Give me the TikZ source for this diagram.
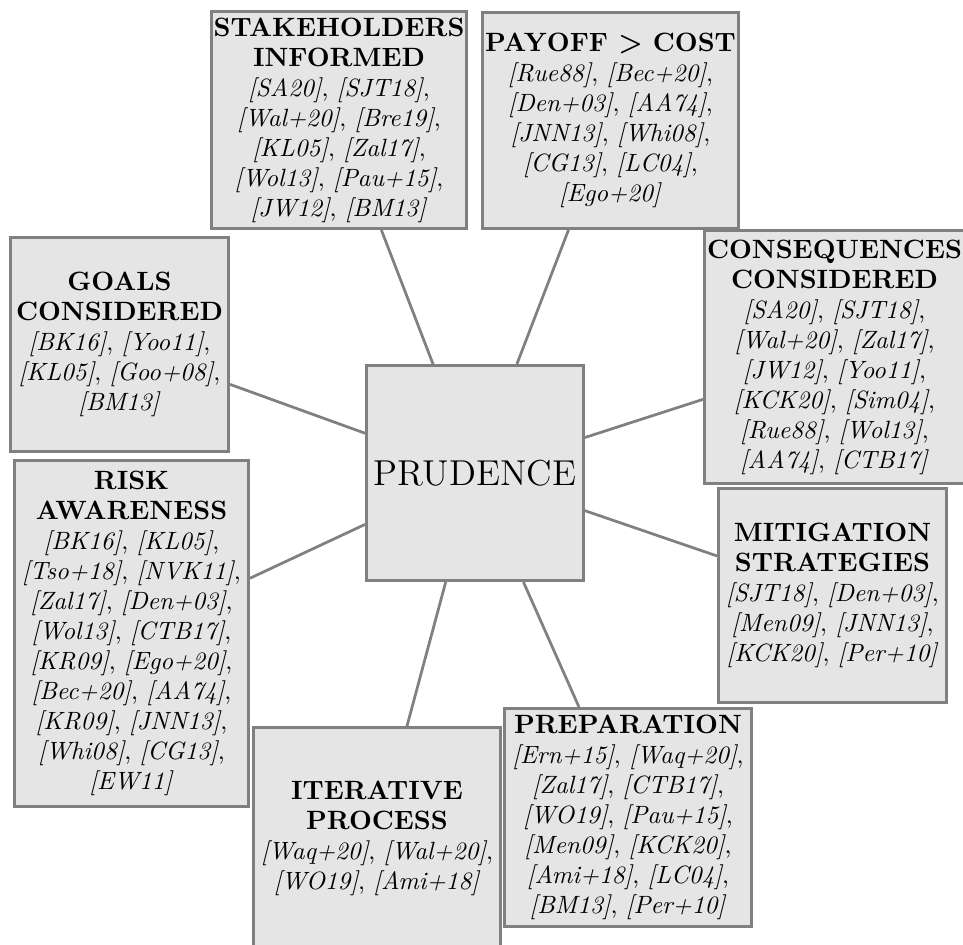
\documentclass[tikz,border=0pt]{standalone}
\newcommand{\rf}[1]{\textit{[#1]}}
\newcommand{\hd}[1]{{\fontsize{10.6}{12.6}\selectfont\textbf{#1}}}
\begin{document}
\begin{tikzpicture}[x=0.4pt,y=-0.4pt,
  box/.style={draw=gray, fill=gray!20, line width=1.2pt, align=center,
    inner sep=1pt, rectangle},
  sz/.style 2 args={minimum width=#1*0.4pt, minimum height=#2*0.4pt},
  link/.style={draw=gray, line width=1.1pt}]
\useasboundingbox (0,0) rectangle (963,945);

% central concept
\node[box, sz={217}{215}, font=\Large] (prud) at (475,473) {PRUDENCE};

% surrounding aspects
\node[box, sz={255}{217}] (stake) at (339,120)
  {\hd{STAKEHOLDERS}\\ \hd{INFORMED}\\
   \rf{SA20}, \rf{SJT18},\\ \rf{Wal+20}, \rf{Bre19},\\
   \rf{KL05}, \rf{Zal17},\\ \rf{Wol13}, \rf{Pau+15},\\
   \rf{JW12}, \rf{BM13}};

\node[box, sz={254}{216}] (pay) at (610.5,120.5)
  {\hd{PAYOFF {\boldmath$>$} COST}\\
   \rf{Rue88}, \rf{Bec+20},\\ \rf{Den+03}, \rf{AA74},\\
   \rf{JNN13}, \rf{Whi08},\\ \rf{CG13}, \rf{LC04},\\
   \rf{Ego+20}};

\node[box, sz={258}{253}] (cons) at (834.5,357)
  {\hd{CONSEQUENCES}\\ \hd{CONSIDERED}\\
   \rf{SA20}, \rf{SJT18},\\ \rf{Wal+20}, \rf{Zal17},\\
   \rf{JW12}, \rf{Yoo11},\\ \rf{KCK20}, \rf{Sim04},\\
   \rf{Rue88}, \rf{Wol13},\\ \rf{AA74}, \rf{CTB17}};

\node[box, sz={218}{214}] (goals) at (119.5,344.5)
  {\hd{GOALS}\\ \hd{CONSIDERED}\\
   \rf{BK16}, \rf{Yoo11},\\ \rf{KL05}, \rf{Goo+08},\\
   \rf{BM13}};

\node[box, sz={234}{346}] (risk) at (131.5,633.5)
  {\hd{RISK}\\ \hd{AWARENESS}\\
   \rf{BK16}, \rf{KL05},\\ \rf{Tso+18}, \rf{NVK11},\\
   \rf{Zal17}, \rf{Den+03},\\ \rf{Wol13}, \rf{CTB17},\\
   \rf{KR09}, \rf{Ego+20},\\ \rf{Bec+20}, \rf{AA74},\\
   \rf{KR09}, \rf{JNN13},\\ \rf{Whi08}, \rf{CG13},\\
   \rf{EW11}};

\node[box, sz={228}{214}] (mitig) at (832.5,595.5)
  {\hd{MITIGATION}\\ \hd{STRATEGIES}\\
   \rf{SJT18}, \rf{Den+03},\\ \rf{Men09}, \rf{JNN13},\\
   \rf{KCK20}, \rf{Per+10}};

\node[box, sz={247}{220}] (iter) at (377,838)
  {\hd{ITERATIVE}\\ \hd{PROCESS}\\
   \rf{Waq+20}, \rf{Wal+20},\\ \rf{WO19}, \rf{Ami+18}};

\node[box, sz={247}{218}] (prep) at (628,817.5)
  {\hd{PREPARATION}\\
   \rf{Ern+15}, \rf{Waq+20},\\ \rf{Zal17}, \rf{CTB17},\\
   \rf{WO19}, \rf{Pau+15},\\ \rf{Men09}, \rf{KCK20},\\
   \rf{Ami+18}, \rf{LC04},\\ \rf{BM13}, \rf{Per+10}};

% spokes from the centre
\foreach \n in {stake,pay,cons,goals,risk,mitig,iter,prep}
  \draw[link] (prud) -- (\n);
\end{tikzpicture}
\end{document}
